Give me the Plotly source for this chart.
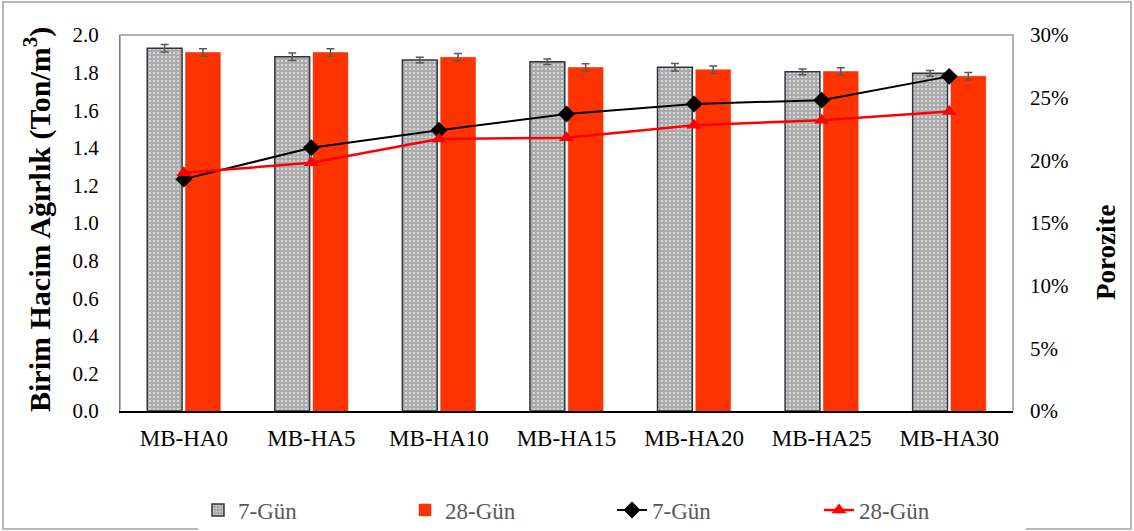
import plotly.graph_objects as go

categories = ["MB-HA0", "MB-HA5", "MB-HA10", "MB-HA15", "MB-HA20", "MB-HA25", "MB-HA30"]
unit_weight_7 = [1.930, 1.884, 1.867, 1.858, 1.829, 1.804, 1.796]
unit_weight_28 = [1.907, 1.907, 1.881, 1.827, 1.815, 1.806, 1.781]
err_7 = [0.02, 0.02, 0.015, 0.015, 0.02, 0.015, 0.015]
err_28 = [0.02, 0.02, 0.02, 0.02, 0.02, 0.02, 0.02]
porosity_7 = [0.185, 0.210, 0.224, 0.237, 0.245, 0.248, 0.267]
porosity_28 = [0.190, 0.198, 0.217, 0.218, 0.228, 0.232, 0.239]

W, H = 1134, 531
L, R, T, B = 120, 121, 35, 120
pw, ph = W - L - R, H - T - B

FONT = "Liberation Serif, Times New Roman, serif"

fig = go.Figure()
fig.add_trace(go.Bar(
    x=categories, y=unit_weight_7, name="7-Gün",
    marker=dict(color="#b4b4b4", line=dict(color="#2e3540", width=1.5),
                pattern=dict(shape=".", fgcolor="#ffffff", bgcolor="#a8a8a8", size=4, solidity=0.35)),
    error_y=dict(type="data", array=err_7, color="#595959", thickness=1.5, width=4),
))
fig.add_trace(go.Bar(
    x=categories, y=unit_weight_28, name="28-Gün",
    marker=dict(color="#ff3300", line=dict(color="#e03000", width=0.5)),
    error_y=dict(type="data", array=err_28, color="#595959", thickness=1.5, width=4),
))
fig.add_trace(go.Scatter(
    x=categories, y=porosity_7, name="7-Gün", yaxis="y2", mode="lines+markers",
    line=dict(color="#000000", width=2),
    marker=dict(symbol="diamond", size=13, color="#000000"),
))
fig.add_trace(go.Scatter(
    x=categories, y=porosity_28, name="28-Gün", yaxis="y2", mode="lines+markers",
    line=dict(color="#ff0000", width=2.5),
    marker=dict(symbol="triangle-up", size=13, color="#ff0000"),
))

def px_x(p):
    return (p - L) / pw

def px_y(p):
    return (H - B - p) / ph

fig.update_layout(
    width=W, height=H,
    margin=dict(l=L, r=R, t=T, b=B, autoexpand=False),
    paper_bgcolor="white", plot_bgcolor="white",
    font=dict(family=FONT, color="#000000"),
    barmode="group", bargap=0.4, bargroupgap=0.09,
    showlegend=True,
    legend=dict(orientation="h", x=px_x(198), xanchor="left", y=px_y(510), yanchor="middle",
                entrywidth=162, font=dict(size=23, color="#595959", family=FONT),
                traceorder="normal"),
    xaxis=dict(showline=True, linecolor="#000000", linewidth=1.5, mirror=False,
               tickfont=dict(size=23, family=FONT, color="#000000"), ticks="",
               ticklabelstandoff=6, showgrid=False, automargin=False),
    yaxis=dict(range=[0, 2.0], dtick=0.2, tickformat=".1f", showgrid=False,
               showline=True, linecolor="#808080", linewidth=1, ticks="",
               ticklabelstandoff=16, automargin=False,
               tickfont=dict(size=21, family=FONT, color="#000000")),
    yaxis2=dict(range=[0, 0.30], dtick=0.05, tickformat=".0%", overlaying="y", side="right",
                showgrid=False, showline=False, ticks="", automargin=False,
                ticklabelstandoff=16,
                tickfont=dict(size=21, family=FONT, color="#000000")),
    annotations=[
        dict(text="<b>Birim Hacim Ağırlık (Ton/m<sup>3</sup>)</b>", textangle=-90,
             xref="paper", yref="paper", x=px_x(37), y=px_y(220),
             xanchor="center", yanchor="middle", showarrow=False,
             font=dict(size=30, family=FONT, color="#000000")),
        dict(text="<b>Porozite</b>", textangle=-90,
             xref="paper", yref="paper", x=px_x(1106), y=px_y(253),
             xanchor="center", yanchor="middle", showarrow=False,
             font=dict(size=27, family=FONT, color="#000000")),
    ],
    shapes=[
        dict(type="rect", xref="paper", yref="paper", x0=0, x1=1, y0=0, y1=1,
             line=dict(color="#999999", width=1.5), layer="below"),
        dict(type="rect", xref="paper", yref="paper",
             x0=px_x(3), x1=px_x(1131), y0=px_y(2), y1=px_y(529),
             line=dict(color="#a0a0a0", width=1.5)),
    ],
)

fig.write_html("out.html", config={"displayModeBar": False},
               post_script="document.body.style.margin='0';")
